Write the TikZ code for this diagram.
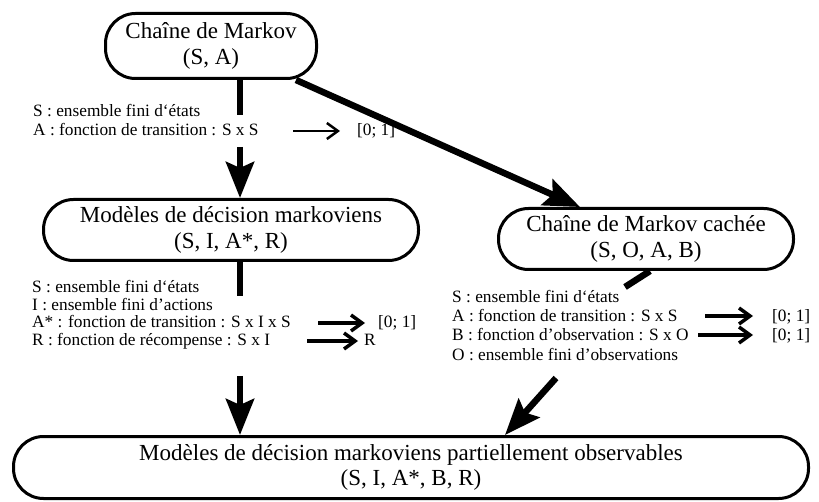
\documentclass[tikz,border=0pt]{standalone}
\usepackage{fontspec}
\setmainfont{Liberation Serif}
\usetikzlibrary{arrows.meta, positioning, calc}

\begin{document}
\begin{tikzpicture}[x=1pt, y=-1pt]
    \tikzstyle{model} = [rectangle, rounded corners=30pt, line width=3pt, draw=black, align=center, inner sep=0pt, font=\fontsize{23}{25.5}\selectfont]
    \tikzstyle{note} = [anchor=base west, inner sep=0pt, font=\fontsize{17.3}{20}\selectfont]
    \tikzstyle{link} = [line width=6.5pt]
    \tikzstyle{bigarrow} = [line width=6.5pt, -{Stealth[length=36pt, width=28pt, inset=6pt]}]
    \tikzstyle{maparrow} = [line width=3.5pt, -{Straight Barb[length=11pt, width=16pt]}]

    \useasboundingbox (0,0) rectangle (819,502);

    \node (markov) [model, minimum width=211pt, minimum height=65pt] at (211,46) {Chaîne de Markov\\(S, A)};
    \node (mdp) [model, minimum width=375pt, minimum height=61pt] at (231,230) {Modèles de décision markoviens\\(S, I, A*, R)};
    \node (hmm) [model, minimum width=295pt, minimum height=61pt] at (646,239) {Chaîne de Markov cachée\\(S, O, A, B)};
    \node (pomdp) [model, minimum width=795pt, minimum height=62pt] at (411,467.5) {Modèles de décision markoviens partiellement observables\\(S, I, A*, B, R)};

    % definitions under each model
    \node (mcS) [note] at (33,117) {S : ensemble fini d‘états};
    \node (mcA) [note] at (33,136) {A : fonction de transition : S x S};
    \node (mcA01) [note] at (357,136) {[0; 1]};

    \node (mdpS) [note] at (32,293) {S : ensemble fini d‘états};
    \node (mdpI) [note] at (32,310.5) {I : ensemble fini d’actions};
    \node (mdpA) [note] at (32,328) {A* : fonction de transition : S x I x S};
    \node (mdpR) [note] at (32,346) {R : fonction de récompense : S x I};
    \node (mdpA01) [note] at (378,328) {[0; 1]};
    \node (mdpRR) [note] at (364,346) {R};

    \node (hmmS) [note] at (452,303) {S : ensemble fini d‘états};
    \node (hmmA) [note] at (452,322) {A : fonction de transition : S x S};
    \node (hmmB) [note] at (452,341) {B : fonction d’observation : S x O};
    \node (hmmO) [note] at (452,360) {O : ensemble fini d’observations};
    \node (hmmA01) [note] at (772,322) {[0; 1]};
    \node (hmmB01) [note] at (772,341) {[0; 1]};

    \coordinate (mcStub) at (240,115);
    \coordinate (mdpIn) at (240,147);
    \coordinate (mcOut) at (296,0);
    \coordinate (hmmIn) at (580,0);
    \coordinate (mdpStub) at (240,296);
    \coordinate (pomdpInL) at (240,376);
    \coordinate (hmmOut) at (650,0);
    \coordinate (hmmStub) at (625,287);
    \coordinate (pomdpInR) at (556,378);
    \coordinate (pomdpTipR) at (505,0);

    \draw [link] (markov.south -| mcStub) -- (mcStub);
    \draw [bigarrow] (mdpIn) -- (mdp.north -| mdpIn);
    \draw [bigarrow] (markov.south -| mcOut) -- (hmm.north -| hmmIn);
    \draw [link] (mdp.south -| mdpStub) -- (mdpStub);
    \draw [bigarrow] (pomdpInL) -- (pomdp.north -| pomdpInL);
    \draw [link] (hmm.south -| hmmOut) -- (hmmStub);
    \draw [bigarrow] (pomdpInR) -- (pomdp.north -| pomdpTipR);

    % small mapping arrows
    \coordinate (mcMap1) at (293,131);
    \coordinate (mcMap2) at (340,131);
    \coordinate (mdpMapA1) at (318,323);
    \coordinate (mdpMapA2) at (365,323);
    \coordinate (mdpMapR1) at (307,341);
    \coordinate (mdpMapR2) at (358,341);
    \coordinate (hmmMapA1) at (705,316);
    \coordinate (hmmMapA2) at (753,316);
    \coordinate (hmmMapB1) at (698,335);
    \coordinate (hmmMapB2) at (753,335);

    \draw [maparrow, line width=2.5pt] (mcMap1) -- (mcMap2);
    \draw [maparrow] (mdpMapA1) -- (mdpMapA2);
    \draw [maparrow] (mdpMapR1) -- (mdpMapR2);
    \draw [maparrow] (hmmMapA1) -- (hmmMapA2);
    \draw [maparrow] (hmmMapB1) -- (hmmMapB2);
\end{tikzpicture}
\end{document}
